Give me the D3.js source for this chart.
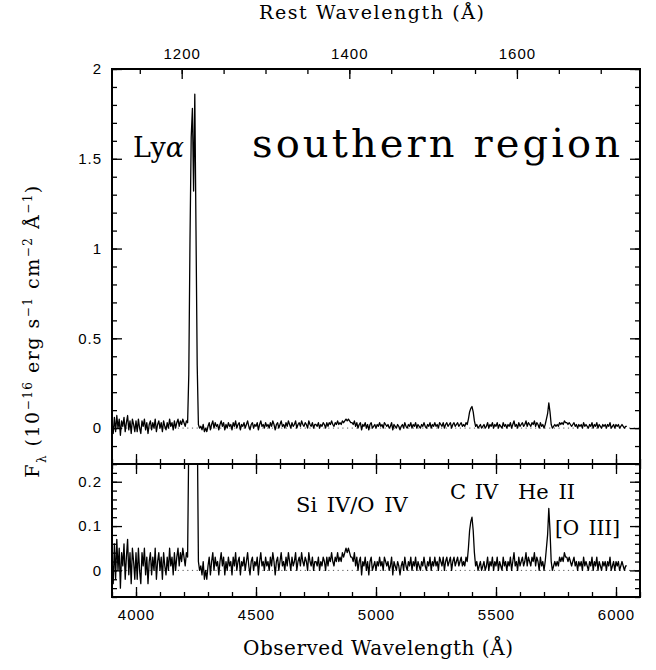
<!DOCTYPE html>
<html>
<head>
<meta charset="utf-8">
<script src="https://cdn.jsdelivr.net/npm/d3@7"></script>
<style>
  body { margin: 0; background: #fff; }
  svg { display: block; }
  .tick text { font-family: "Liberation Sans", Arial, sans-serif; font-size: 15px; letter-spacing: 1px; fill: #000; }
  .tick line { stroke: #000; stroke-width: 1.3; }
  .label { font-family: "DejaVu Serif", serif; fill: #000; }
</style>
</head>
<body>
<svg id="chart" width="656" height="670"></svg>
<script>
// spectrum sampled on a regular observed-frame grid (Angstrom)
const lamStart = 3900;
const lamStep = 5;
const flux = [
  0.03, -0.03, 0.06, -0.02, 0.07, 0.00, 0.05, -0.04, 0.04, 0.01,
  0.06, -0.02, 0.03, 0.07, -0.01, 0.04, -0.03, 0.05, 0.02, -0.02,
  0.04, -0.02, 0.05, 0.00, -0.03, 0.04, 0.01, 0.05, -0.01, 0.03,
  -0.03, 0.02, 0.04, -0.01, 0.03, 0.00, 0.05, -0.02, 0.02, 0.04,
  0.00, 0.03, -0.02, 0.04, 0.01, -0.01, 0.03, 0.00, 0.05, 0.01,
  0.03, -0.01, 0.04, 0.00, 0.03, 0.05, 0.01, 0.04, 0.02, 0.05,
  0.03, 0.01, 0.04, 0.03, 0.30, 1.05, 1.62, 1.78, 1.32, 1.86,
  1.10, 0.35, 0.02, 0.00, 0.01, -0.01, 0.02, -0.02, 0.00, -0.02,
  0.01, 0.03, -0.01, 0.02, 0.04, 0.00, 0.03, 0.01, 0.02, -0.01,
  0.02, 0.04, 0.01, 0.03, -0.01, 0.02, 0.00, 0.03, 0.01, 0.02,
  -0.01, 0.03, 0.01, 0.04, 0.00, 0.02, 0.03, -0.01, 0.02, 0.01,
  0.03, 0.00, 0.02, 0.04, 0.01, -0.01, 0.02, 0.03, 0.00, 0.02,
  0.01, 0.03, -0.01, 0.02, 0.04, 0.01, 0.02, 0.00, 0.03, 0.01,
  0.02, 0.00, 0.03, 0.01, 0.04, 0.02, -0.01, 0.02, 0.03, 0.00,
  0.02, 0.04, 0.01, 0.02, 0.00, 0.03, 0.01, 0.04, 0.02, 0.00,
  0.03, 0.01, 0.02, 0.04, 0.00, 0.02, 0.03, 0.01, 0.04, 0.02,
  0.01, 0.03, 0.02, 0.00, 0.04, 0.02, 0.01, 0.03, 0.00, 0.02,
  0.02, 0.01, 0.03, 0.00, 0.02, 0.01, 0.03, 0.02, 0.00, 0.03,
  0.01, 0.03, 0.02, 0.04, 0.02, 0.01, 0.03, 0.02, 0.04, 0.02,
  0.03, 0.02, 0.04, 0.03, 0.04, 0.05, 0.04, 0.05, 0.04, 0.03,
  0.03, 0.02, 0.04, 0.01, 0.03, 0.00, 0.02, 0.03, -0.01, 0.02,
  0.01, 0.03, 0.00, 0.02, -0.01, 0.02, 0.03, 0.00, 0.01, 0.02,
  0.00, 0.02, 0.01, 0.03, 0.01, 0.02, 0.00, 0.03, 0.02, 0.01,
  0.02, 0.00, 0.01, 0.03, -0.01, 0.02, 0.01, 0.00, 0.02, 0.01,
  -0.01, 0.01, 0.02, 0.00, 0.03, 0.01, 0.00, 0.02, 0.01, 0.03,
  0.00, 0.02, 0.01, 0.03, 0.00, 0.02, 0.01, 0.00, 0.02, 0.01,
  0.03, 0.01, 0.00, 0.02, 0.01, 0.03, 0.00, 0.02, 0.01, 0.03,
  0.01, 0.02, 0.00, 0.03, 0.02, 0.01, 0.03, 0.00, 0.02, 0.03,
  0.01, 0.02, 0.03, 0.00, 0.02, 0.03, 0.01, 0.02, 0.03, 0.01,
  0.02, 0.03, 0.01, 0.02, 0.01, 0.03, 0.02, 0.05, 0.09, 0.11,
  0.12, 0.09, 0.04, 0.01, 0.02, 0.00, 0.01, 0.02, 0.00, 0.01,
  0.02, 0.00, 0.01, 0.03, 0.00, 0.02, 0.01, 0.03, 0.00, 0.02,
  0.01, 0.03, 0.00, 0.02, 0.01, 0.00, 0.03, 0.01, 0.02, 0.00,
  0.02, 0.01, 0.03, 0.00, 0.02, 0.04, 0.01, 0.02, 0.00, 0.03,
  0.01, 0.02, 0.03, 0.01, 0.02, 0.04, 0.01, 0.03, 0.02, 0.01,
  0.03, 0.02, 0.04, 0.01, 0.03, 0.02, 0.00, 0.03, 0.01, 0.02,
  0.00, 0.02, 0.05, 0.08, 0.14, 0.09, 0.02, 0.00, 0.01, 0.02,
  0.01, 0.02, 0.01, 0.03, 0.02, 0.03, 0.02, 0.04, 0.03, 0.03,
  0.02, 0.03, 0.02, 0.01, 0.02, 0.03, 0.01, 0.02, 0.00, 0.02,
  0.01, 0.02, 0.00, 0.03, 0.01, 0.02, 0.01, 0.00, 0.02, 0.01,
  0.03, 0.00, 0.02, 0.01, 0.03, 0.00, 0.02, 0.01, 0.00, 0.02,
  0.01, 0.02, 0.00, 0.02, 0.01, 0.03, 0.00, 0.01, 0.02, 0.00,
  0.02, 0.01, 0.02, 0.00, 0.01, 0.02, 0.01, 0.00, 0.01, 0.01
];

const obsDomain = [3900, 6100];
const onePlusZ = 3.492;
const topFluxDomain = [-0.2, 2];
const botFluxDomain = [-0.06, 0.24];

const obsTicks = [4000, 4500, 5000, 5500, 6000];
const obsMinor = d3.range(3900, 6101, 100);
const restTicks = [1200, 1400, 1600];
const restMinor = d3.range(1150, 1751, 50);
const topYTicks = [0, 0.5, 1, 1.5, 2];
const topYMinor = d3.range(-0.2, 2.001, 0.1);
const botYTicks = [0, 0.1, 0.2];
const botYMinor = d3.range(-0.06, 0.2401, 0.02);

const spectrum = flux.map((f, i) => ({x: lamStart + i * lamStep, y: f}));

const left = 112, right = 640;
const topPanel = {top: 69, bottom: 464};
const botPanel = {top: 464, bottom: 597};

const svg = d3.select('#chart');

const x = d3.scaleLinear().domain(obsDomain).range([left, right]);
const xRest = d3.scaleLinear().domain(obsDomain.map(d => d / onePlusZ)).range([left, right]);
const yTop = d3.scaleLinear().domain(topFluxDomain).range([topPanel.bottom, topPanel.top]);
const yBot = d3.scaleLinear().domain(botFluxDomain).range([botPanel.bottom, botPanel.top]);

const fmt = d => String(+d.toFixed(2));

function tickAxis(axisFn, scale, values, size, pos, labels, pad) {
    const axis = axisFn(scale).tickValues(values).tickSize(-size).tickPadding(pad || 0);
    if (!labels) axis.tickFormat('');
    else axis.tickFormat(fmt);
    const g = svg.append('g').attr('transform', pos).call(axis);
    g.select('.domain').remove();
    return g;
}

function drawPanel(panel, y, yMajor, yMinor, name) {
    const clipId = 'clip-' + name;
    svg.append('clipPath').attr('id', clipId)
        .append('rect')
        .attr('x', left).attr('y', panel.top)
        .attr('width', right - left).attr('height', panel.bottom - panel.top);

    // zero level
    svg.append('line')
        .attr('x1', left).attr('x2', right)
        .attr('y1', y(0)).attr('y2', y(0))
        .attr('stroke', '#555')
        .attr('stroke-width', 1)
        .attr('stroke-dasharray', '1.2,3.5');

    const line = d3.line().x(d => x(d.x)).y(d => y(d.y));
    svg.append('path')
        .attr('d', line(spectrum))
        .attr('clip-path', `url(#${clipId})`)
        .attr('fill', 'none')
        .attr('stroke', '#000')
        .attr('stroke-width', 1.3)
        .attr('stroke-linejoin', 'round');

    // y ticks, left (labelled) and right
    tickAxis(d3.axisLeft, y, yMinor, 5, `translate(${left},0)`, false);
    tickAxis(d3.axisLeft, y, yMajor, 10, `translate(${left},0)`, true, 10);
    tickAxis(d3.axisRight, y, yMinor, 5, `translate(${right},0)`, false);
    tickAxis(d3.axisRight, y, yMajor, 10, `translate(${right},0)`, false);

    svg.append('rect')
        .attr('x', left).attr('y', panel.top)
        .attr('width', right - left).attr('height', panel.bottom - panel.top)
        .attr('fill', 'none')
        .attr('stroke', '#000')
        .attr('stroke-width', 2);
}

drawPanel(topPanel, yTop, topYTicks, topYMinor, 'top');
drawPanel(botPanel, yBot, botYTicks, botYMinor, 'bot');

// top edge: rest wavelength
tickAxis(d3.axisTop, xRest, restMinor.filter(d => xRest(d) > left && xRest(d) < right), 5, `translate(0,${topPanel.top})`, false);
tickAxis(d3.axisTop, xRest, restTicks, 10, `translate(0,${topPanel.top})`, true, 10);
// bottom of top panel
tickAxis(d3.axisTop, x, obsMinor, 5, `translate(0,${topPanel.bottom})`, false);
tickAxis(d3.axisTop, x, obsTicks, 10, `translate(0,${topPanel.bottom})`, false);
// top of bottom panel
tickAxis(d3.axisBottom, x, obsMinor, 5, `translate(0,${botPanel.top})`, false);
tickAxis(d3.axisBottom, x, obsTicks, 10, `translate(0,${botPanel.top})`, false);
// bottom edge: observed wavelength
tickAxis(d3.axisBottom, x, obsMinor, 5, `translate(0,${botPanel.bottom})`, false);
tickAxis(d3.axisBottom, x, obsTicks, 10, `translate(0,${botPanel.bottom})`, true, 12);

function label(txt, px, py, size, width) {
    const t = svg.append('text')
        .attr('class', 'label')
        .attr('x', px).attr('y', py)
        .attr('font-size', size)
        .text(txt);
    if (width) t.attr('textLength', width).attr('lengthAdjust', 'spacing');
    return t;
}

label('Rest Wavelength (Å)', 259, 19, 19, 225);
label('Observed Wavelength (Å)', 243, 655, 20, 270);
label('southern region', 252, 157, 40, 368);
label('Si IV/O IV', 296, 511.5, 21).attr('word-spacing', 3);
label('C IV', 450, 499, 21).attr('word-spacing', 2);
label('He II', 518, 499, 21).attr('word-spacing', 3);
label('[O III]', 555, 535, 20).attr('word-spacing', 3);

const ly = label('Ly', 133, 156.5, 27);
ly.append('tspan').attr('font-style', 'italic').text('α');

// y axis title
const yt = svg.append('text')
    .attr('class', 'label')
    .attr('transform', 'translate(39,331) rotate(-90)')
    .attr('text-anchor', 'middle')
    .attr('letter-spacing', 1.5)
    .attr('font-size', 19);
yt.append('tspan').text('F');
yt.append('tspan').attr('font-size', 12).attr('baseline-shift', 'sub').text('λ');
yt.append('tspan').text(' (10');
yt.append('tspan').attr('font-size', 12).attr('baseline-shift', 'super').text('−16');
yt.append('tspan').text(' erg s');
yt.append('tspan').attr('font-size', 12).attr('baseline-shift', 'super').text('−1');
yt.append('tspan').text(' cm');
yt.append('tspan').attr('font-size', 12).attr('baseline-shift', 'super').text('−2');
yt.append('tspan').text(' Å');
yt.append('tspan').attr('font-size', 12).attr('baseline-shift', 'super').text('−1');
yt.append('tspan').text(')');
</script>
</body>
</html>
